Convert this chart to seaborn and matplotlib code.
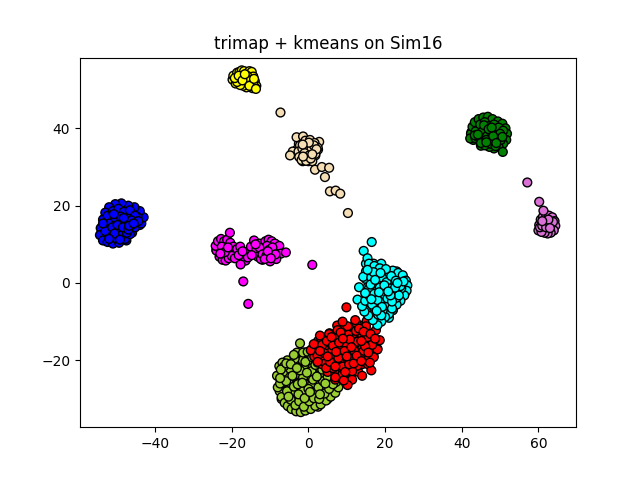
import pandas as pd
import matplotlib
matplotlib.use('Agg')
import matplotlib.pyplot as plt
import seaborn as sns

# values, one cluster at a time
olive_x = [-8.2,-8.0,-7.6,-7.0,-6.2,-5.4,-4.4,-3.2,-2.0,-0.8,0.6,1.8,3.2,4.6,5.8,7.0,7.8,7.2,6.0,-7.4,-6.6,-5.6,-4.6,-3.4,-2.4,-1.2,0.2,1.4,2.8,4.2,5.4,6.4,-6.8,-5.8,-4.8,-3.8,-2.6,-1.4,0,1.2,2.6,3.8,5.0,-5.2,-3.6,-2.2,-0.8,0.8,2.2,3.6,-4.2,-2.8,-1.0,0.4,1.8,-6.4,-7.2,-2.2,-1.4,-3.8,-5.8,3.0,-0.2,-4.6,-7.4,-3.0,-1.6,-0.4,1.0,2.4,4.4]
olive_y = [-24.0,-27.0,-21.5,-29.5,-31.0,-31.8,-32.6,-33.2,-33.4,-33.0,-32.6,-31.8,-31.4,-30.4,-29.4,-28.4,-27.0,-25.6,-24.2,-26.0,-23.0,-28.0,-30.2,-31.6,-30.6,-32.0,-30.6,-29.8,-30.0,-28.6,-27.4,-26.2,-20.6,-25.4,-22.2,-26.8,-28.8,-24.4,-27.4,-25.0,-27.0,-25.4,-24.2,-29.4,-19.6,-22.6,-20.4,-22.8,-24.2,-22.4,-24.0,-26.2,-29.8,-28.2,-21.2,-21.6,-22.4,-15.6,-18.0,-18.6,-20.8,-28.8,-17.8,-21.0,-24.6,-22.0,-25.8,-23.2,-19.2,-20.6,-26.0]
olive_fill_x = [-3,-1,0.5,-5.5,-3.5,-1.5,0.5,2,-7,-5,-3,-1,1,3,4.5,-8,-6,-4,-2,0,2,4,6,-7,-5,-3,-1,1,3,5,7,-7.5,-5.5,-3.5,-1.5,0.5,2.5,4.5,6.5,-7,-5,-3,-1,1,3,5,-5,-3,-1,1,2.5]
olive_fill_y = [-18,-18,-18,-20,-20,-20,-20,-20,-22,-22,-22,-22,-22,-22,-22,-24,-24,-24,-24,-24,-24,-24,-24,-26,-26,-26,-26,-26,-26,-26,-26,-28,-28,-28,-28,-28,-28,-28,-28,-30,-30,-30,-30,-30,-30,-30,-32,-32,-32,-32,-32]

red_x = [0.6,1.4,2.4,3.4,4.4,5.4,6.4,7.6,8.8,10.2,11.4,12.6,14.0,15.2,16.4,17.6,18.6,18.0,17.0,16.0,15.0,14.0,12.8,11.4,10.2,9.2,8.2,7.0,5.8,4.6,3.6,2.4,3.0,4.2,5.4,6.6,7.8,9.0,10.4,11.6,12.8,14.2,15.4,16.6,4.8,6.2,7.4,8.6,9.8,11.0,12.4,13.6,14.8,5.6,7.0,8.4,9.6,10.8,12.0,13.2,6.4,7.8,9.4,10.6,11.8,3.0,6.0,13.8,9.9,8.9,7.2,10.0,5.0,8.0,11.2,14.4,12.2,9.0,16.2,17.4,12.6,13.8,15.6]
red_y = [-17.4,-15.8,-18.8,-14.4,-20.8,-13.2,-22.0,-12.2,-23.8,-11.2,-25.0,-10.6,-24.0,-9.8,-22.6,-12.2,-14.8,-17.2,-19.2,-20.6,-11.2,-13.6,-21.4,-22.8,-26.4,-25.2,-20.6,-24.4,-18.4,-22.0,-16.0,-20.4,-13.6,-18.2,-15.4,-19.6,-16.8,-21.6,-13.4,-19.2,-15.2,-17.8,-14.0,-16.0,-15.0,-17.4,-14.2,-18.6,-16.0,-20.0,-12.4,-19.6,-16.4,-20.4,-21.6,-12.8,-23.0,-14.6,-17.6,-11.8,-16.2,-19.4,-17.6,-21.0,-20.8,-17.6,-14.0,-15.0,-6.3,-10.0,-17.8,-19.0,-19.0,-15.4,-16.6,-12.6,-9.6,-14.4,-13.2,-14.4,-18.8,-20.2,-18.0]
red_fill_x = [7.5,9.5,12,13.5,5.5,8,10,12,15,16.5,2.5,4,6.5,9,11,13,15,17,1,3,5,7.5,10,12,14,16,18,1.5,3.5,6,8.5,11,13,15.5,17,3.5,5.5,7.5,9.5,12,14,15.5,5,7,9,11,13,7,9,11]
red_fill_y = [-11,-11,-11,-11,-13,-13,-13,-13,-13,-13,-15,-15,-15,-15,-15,-15,-15,-15,-17,-17,-17,-17,-17,-17,-17,-17,-17,-19,-19,-19,-19,-19,-19,-19,-19,-21,-21,-21,-21,-21,-21,-21,-23,-23,-23,-23,-23,-25,-25,-25]

cyan_x = [14.4,15.4,16.5,13.2,12.8,14.3,15.8,17.2,18.6,20.4,22.0,23.4,24.6,25.4,25.8,25.6,25.0,24.0,23.0,22.0,21.0,20.0,19.0,18.0,16.8,15.6,14.6,14.0,14.8,15.8,17.0,18.2,19.4,20.6,21.8,23.0,24.2,16.4,17.8,19.2,20.4,21.6,22.8,24.0,15.8,17.2,18.6,19.8,21.2,22.4,23.6,16.6,18.0,19.2,20.6,21.8,17.0,18.4,19.8,15.4,16.2,22.6,20.2,18.8,17.4,16.4,24.8,21.4,14.8,19.0,17.8,20.8,23.2]
cyan_y = [8.3,6.4,10.6,-1.1,-4.3,1.6,5.0,4.4,3.8,2.6,3.2,2.6,2.0,0.6,-0.6,-2.0,-3.2,-4.6,-5.6,-7.0,-8.0,-8.8,-10.0,-10.9,-9.6,-8.4,-7.4,-6.0,-4.6,-3.2,-6.2,-8.2,-7.0,-5.8,-6.6,-3.8,-1.4,1.4,-0.2,1.4,0.2,1.8,0.6,-0.8,-1.4,-2.8,-1.2,-3.0,-1.4,-2.4,-3.2,-5.6,-4.4,-6.2,-4.0,-4.8,2.8,-2.4,-0.6,3.4,-0.4,-1.2,3.6,2.6,0.8,-4.2,0.4,-3.2,-2.6,-8.4,-7.2,-2.2,0.0]
cyan_fill_x = [15,17,19,15,17,19,21,23,15,17,19,21,23,25,15.5,17.5,19.5,21.5,23.5,25.5,15,17,19,21,23,25,15,17,19,21,23,16,18,20,22,17,19,21]
cyan_fill_y = [5,5,5,3,3,3,3,3,1,1,1,1,1,1,-1,-1,-1,-1,-1,-1,-3,-3,-3,-3,-3,-3,-5,-5,-5,-5,-5,-7,-7,-7,-7,-9,-9,-9]

blue_x = [-54.2,-54.4,-53.6,-52.4,-51.0,-49.4,-47.8,-46.6,-45.2,-43.6,-43.0,-44.0,-45.4,-47.0,-48.8,-50.4,-52.0,-53.0,-53.6,-52.8,-51.6,-50.2,-48.8,-47.4,-46.0,-44.6,-52.4,-51.0,-49.6,-48.2,-46.6,-45.2,-51.8,-50.4,-49.0,-47.6,-46.2,-53.0,-51.2,-49.8,-48.4,-47.0,-44.4,-50.6,-49.2,-52.0,-46.8,-48.2,-45.6,-50.8,-53.6]
blue_y = [14.2,12.4,11.0,10.6,10.2,10.4,11.4,12.6,14.4,15.4,17.0,18.6,19.6,20.0,20.6,20.4,19.6,18.2,16.4,15.0,13.0,11.6,12.4,13.0,15.2,17.0,17.4,18.6,19.2,18.4,18.8,17.4,15.4,16.8,17.2,15.8,16.2,13.4,14.4,15.0,14.4,13.8,16.0,12.8,11.2,11.4,14.8,16.8,15.4,17.8,15.4]
blue_fill_x = [-51,-49,-47,-45,-53,-51,-49,-47,-45,-44,-53.5,-51.5,-49.5,-47.5,-45.5,-44,-54,-52,-50,-48,-46,-53,-51,-49,-47.5]
blue_fill_y = [19,19,19,19,17,17,17,17,17,17,15,15,15,15,15,15,13,13,13,13,13,11,11,11,11]

magenta_x = [-24.0,-24.2,-23.6,-22.8,-22.0,-21.2,-20.4,-19.6,-23.2,-22.4,-21.6,-20.8,-20.0,-19.2,-22.6,-21.8,-21.0,-23.0,-20.5,-18.6,-17.8,-17.0,-16.4,-15.8,-15.0,-14.2,-13.6,-12.8,-12.0,-11.2,-10.4,-9.6,-8.8,-8.2,-7.6,-7.2,-13.2,-12.4,-11.6,-10.8,-10.0,-9.2,-8.4,-12.8,-12.0,-11.0,-10.2,-9.4,-8.6,-13.8,-11.4,-10.6,-9.8,-5.9,-17.7,-15.8,-18.2,-17.2,-14.8,1.0,-17.0,-15.7]
magenta_y = [8.4,9.6,10.8,11.4,10.8,11.2,10.4,9.4,6.8,6.0,5.8,6.4,7.0,6.4,9.4,8.0,9.2,7.6,13.0,8.8,9.4,7.4,5.8,7.6,9.4,11.0,8.6,10.2,6.4,10.8,11.2,10.8,10.2,8.4,9.6,7.6,6.8,6.2,8.0,9.6,5.6,6.8,6.2,9.2,7.4,7.0,8.6,9.2,7.4,10.0,6.2,8.2,6.4,7.9,4.8,6.6,7.2,8.2,7.2,4.7,0.4,-5.4]
magenta_fill_x = [-23.5,-22,-20.5,-24,-22.5,-21,-19.5,-23,-21.5,-20,-18,-16.5,-13,-11.5,-10,-8.5,-14,-12.5,-11,-9.5,-8,-13,-11.5,-10,-8.5,-12,-10]
magenta_fill_y = [10,10,10,8.5,8.5,8.5,8.5,7,7,7,8,8,10,10,10,10,8.5,8.5,8.5,8.5,8.5,7,7,7,7,6,6]

yellow_x = [-19.8,-19.6,-19.0,-18.6,-18.0,-17.4,-16.8,-16.0,-15.4,-14.8,-14.4,-14.0,-13.6,-13.8,-14.6,-15.4,-16.2,-17.0,-17.8,-18.6,-19.2,-17.6,-16.8,-16.0,-15.2,-14.4,-18.2,-17.2,-15.4,-16.6,-14.2,-13.7]
yellow_y = [52.6,53.6,51.6,54.4,54.6,55.0,54.8,54.2,54.8,54.6,53.4,52.2,51.0,50.4,50.4,50.8,50.6,51.0,51.2,52.0,53.0,53.4,52.6,53.6,52.4,51.8,53.6,52.4,51.0,54.0,52.8,50.2]
yellow_fill_x = [-18.5,-17,-15.5,-14.5,-19,-17.5,-16,-15,-16.5,-15]
yellow_fill_y = [53.5,53.5,53.5,53.5,52,52,52,52,51,51]

wheat_x = [-7.3,-3.1,-1.4,2.8,-4.1,-4.8,-2.2,-0.8,0.4,1.6,2.4,-2.6,-1.6,-0.4,0.8,1.8,-2.4,-1.0,0.2,1.4,-1.8,-0.6,0.6,2.1,1.0,-1.4,0.1,-1.5,1.7,3.5,5.4,4.3,5.6,7.1,8.3,10.3]
wheat_y = [44.1,37.7,37.9,36.5,34.0,33.0,35.6,36.8,37.0,36.2,35.0,34.0,34.8,35.6,34.6,33.4,32.6,33.6,33.0,35.6,31.8,31.6,32.2,34.6,33.3,32.7,36.3,35.8,29.3,30.0,29.8,27.4,23.7,23.9,23.1,18.1]
wheat_fill_x = [-2.5,-1,0.5,2,-3,-1.5,0,1.5,2.5,-2.5,-1,0.5,1.8,-1.5,0,1]
wheat_fill_y = [36,36,36,36,34.5,34.5,34.5,34.5,34.5,33,33,33,33,31.5,31.5,31.5]

green_x = [42.4,42.2,42.8,43.4,44.4,45.6,46.8,48.0,49.4,50.6,51.4,51.8,51.6,50.8,49.6,48.4,47.2,46.0,44.8,43.6,43.6,44.8,46.0,47.2,48.4,49.6,50.8,44.2,45.4,46.6,47.8,49.0,50.2,45.0,46.4,47.6,48.8,50.0,45.8,47.0,48.2,43.4,49.0,50.6,44.2,47.8,46.4,50.7]
green_y = [38.6,37.4,40.4,41.6,42.4,42.8,43.0,42.4,41.8,41.2,40.0,38.6,37.0,36.0,35.2,34.8,35.2,35.6,36.4,37.4,39.2,41.0,41.6,40.6,41.0,40.2,39.4,37.8,39.2,38.0,39.0,37.6,37.0,36.2,37.0,36.0,35.4,38.6,40.8,39.8,38.0,38.2,36.2,37.8,38.4,40.2,36.4,33.9]
green_fill_x = [43.5,45.5,47.5,49.5,42.5,44.5,46.5,48.5,50.5,43,45,47,49,51,45,47,49]
green_fill_y = [41,41,41,41,39,39,39,39,39,37,37,37,37,37,35.5,35.5,35.5]

orchid_x = [60.0,60.2,60.6,61.2,62.0,62.8,63.6,64.2,64.4,64.0,63.2,62.4,61.6,60.8,60.4,61.0,62.0,63.0,63.8,62.6,61.3,60.2,57.1,61.0,63.0]
orchid_y = [13.6,15.0,16.4,17.2,17.6,17.4,17.0,16.0,14.8,13.6,13.0,12.8,13.0,13.2,14.4,14.8,14.4,15.4,15.8,16.4,18.7,21.0,26.0,16.0,14.2]
orchid_fill_x = [61,62.5,64,60.5,62,63.5,61,62.5]
orchid_fill_y = [16,16,16,14.5,14.5,14.5,13.3,13.3]

clusters = {
    'yellowgreen': (olive_fill_x + olive_x, olive_fill_y + olive_y),
    'red': (red_fill_x + red_x, red_fill_y + red_y),
    'cyan': (cyan_fill_x + cyan_x, cyan_fill_y + cyan_y),
    'blue': (blue_fill_x + blue_x, blue_fill_y + blue_y),
    'magenta': (magenta_fill_x + magenta_x, magenta_fill_y + magenta_y),
    'yellow': (yellow_fill_x + yellow_x, yellow_fill_y + yellow_y),
    'wheat': (wheat_fill_x + wheat_x, wheat_fill_y + wheat_y),
    'green': (green_fill_x + green_x, green_fill_y + green_y),
    'orchid': (orchid_fill_x + orchid_x, orchid_fill_y + orchid_y),
}

frames = []
for name, (xs, ys) in clusters.items():
    frames.append(pd.DataFrame({'x': xs, 'y': ys, 'cluster': name}))
df = pd.concat(frames, ignore_index=True)

fig, ax = plt.subplots(figsize=(6.4, 4.8), dpi=100)
sns.scatterplot(data=df, x='x', y='y', hue='cluster', palette={c: c for c in clusters},
                s=40, edgecolor='black', linewidth=1.0, alpha=1, legend=False, ax=ax)
ax.set_xlim(-59.6, 69.8)
ax.set_ylim(-37.3, 58.3)
ax.set_xlabel('')
ax.set_ylabel('')
ax.set_title('trimap + kmeans on Sim16')
fig.savefig('out.png', dpi=100)
